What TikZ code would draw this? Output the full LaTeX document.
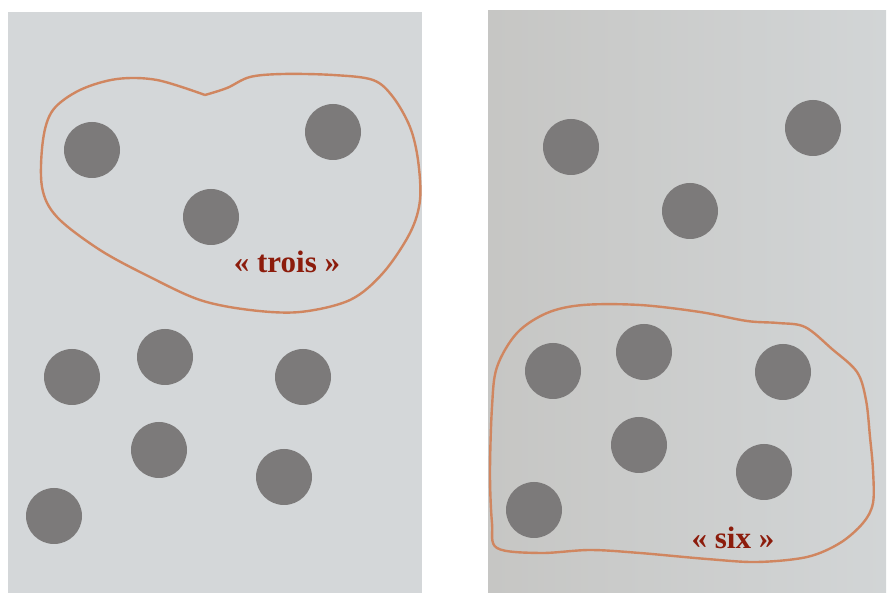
\documentclass[tikz,border=0pt]{standalone}
\usepackage{fontspec}
\setmainfont{Liberation Serif}
\definecolor{feuilleA}{RGB}{212,215,217}
\definecolor{feuilleBg}{RGB}{198,198,196}
\definecolor{feuilleBd}{RGB}{210,213,214}
\definecolor{pastille}{RGB}{124,122,122}
\definecolor{contour}{RGB}{208,134,96}
\definecolor{etiquette}{RGB}{140,28,12}
\begin{document}
\begin{tikzpicture}[x=1pt, y=-1pt,
    jeton/.style={fill=pastille},
    tour/.style={draw=contour, line width=2.4pt, line join=round},
    mot/.style={text=etiquette, font=\bfseries\fontsize{31}{34}\selectfont, inner sep=0pt, anchor=base}]
    % Cadre de l'image
    \useasboundingbox (0,0) rectangle (887,593);
    \def\rayon{28}

    % --- Les deux feuilles ---
    \fill[feuilleA] (8,12) rectangle (422,593);
    \shade[left color=feuilleBg, right color=feuilleBd] (488,11) rectangle (886,593);

    % Pastilles de la feuille de gauche
    \foreach \x/\y in {92/150, 333/132, 211/217, 72/377, 165/357,
                       303/377, 159/450, 284/477, 54/516}
        \fill[jeton] (\x,\y) circle (\rayon);

    % Pastilles de la feuille de droite
    \foreach \x/\y in {571/147, 813/128, 690/211, 553/371, 644/352,
                       783/372, 639/445, 764/472, 534/510}
        \fill[jeton] (\x,\y) circle (\rayon);

    % Entourage de trois pastilles
    \draw[tour] plot[smooth, tension=0.55] coordinates {
        (205,95) (157,80) (117,79) (80,90) (53,110) (43,140) (42,187)
        (57,217) (100,250) (150,277) (200,300) (250,310) (300,312)
        (350,300) (383,273) (410,233) (420,200) (418,160) (410,127)
        (393,97) (373,80) (333,75) (283,74) (250,77) (227,88) (205,95)};
    \node[mot] (trois) at (287,273) {« trois »};

    % Entourage de six pastilles
    \draw[tour] plot[smooth cycle, tension=0.55] coordinates {
        (583,305) (640,305) (700,312) (747,321) (778,323) (805,327)
        (832,349) (857,372) (866,400) (870,437) (873,470) (873,503)
        (863,523) (840,543) (807,557) (757,562) (707,559) (640,553)
        (590,550) (540,553) (497,548) (492,523) (490,473) (492,407)
        (497,367) (517,333) (547,313)};
    \node[mot] (six) at (733,549) {« six »};
\end{tikzpicture}
\end{document}
